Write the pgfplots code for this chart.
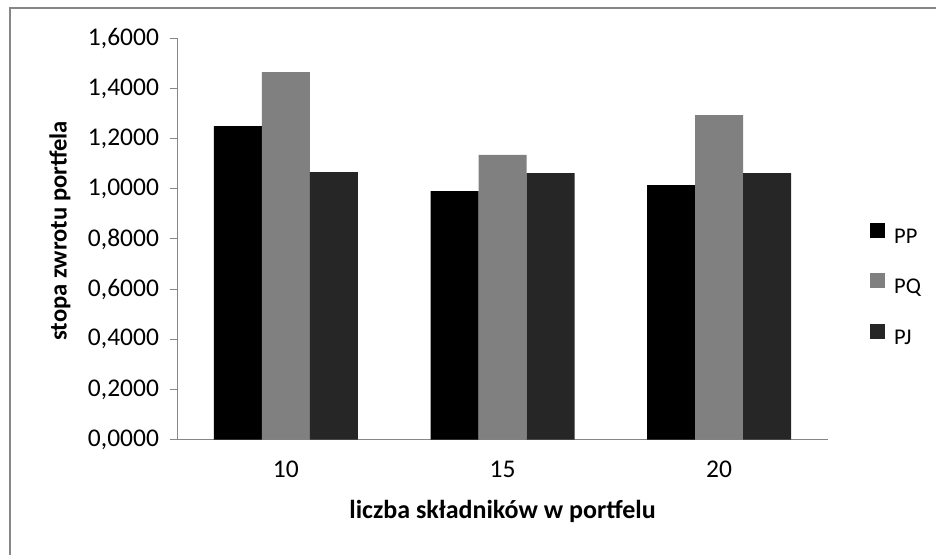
\documentclass[border=0pt]{standalone}
\usepackage{pgfplots}
\pgfplotsset{compat=1.18}
\usepackage{fontspec}
\setmainfont{Carlito}
\definecolor{axisgray}{HTML}{868686}
\definecolor{barPQ}{HTML}{808080}
\definecolor{barPJ}{HTML}{262626}

\begin{document}
\begin{tikzpicture}
\useasboundingbox (0,0) rectangle (936pt,554pt);
\begin{scope}
  \clip (0,0) rectangle (936pt,554pt);
  \draw[axisgray, line width=2pt] (10pt,-20pt) rectangle (960pt,545.5pt);
\end{scope}
\begin{axis}[
  at={(177.5pt,114.3pt)}, anchor=south west,
  width=650pt, height=401.4pt, scale only axis,
  ymin=0, ymax=1.6, xmin=-0.5, xmax=2.5,
  axis x line=bottom, axis y line=left,
  axis line style={axisgray, line width=1pt, -},
  ytick={0,0.2,0.4,0.6,0.8,1.0,1.2,1.4,1.6},
  /pgf/number format/assume math mode=true,
  tick align=outside, major tick length=8pt,
  y tick style={axisgray, line width=1pt},
  xtick={0,1,2}, xticklabels={10,15,20},
  x tick style={draw=none},
  ticklabel style={font=\fontsize{25.5}{28}\selectfont},
  yticklabel style={xshift=-7pt, /pgf/number format/.cd, fixed, fixed zerofill, precision=4, use comma},
  xticklabel style={yshift=-10pt},
  xlabel={liczba składników w portfelu},
  ylabel={stopa zwrotu portfela},
  xlabel style={font=\bfseries\fontsize{26}{29}\selectfont,
    at={(axis description cs:0.5,0)}, anchor=center, yshift=-72pt},
  ylabel style={font=\bfseries\fontsize{24.6}{28}\selectfont,
    at={(axis description cs:-0.1808,0.52)}, anchor=center},
  ybar=0pt, bar width=48pt,
  legend image code/.code={\fill[#1] (0pt,0pt) rectangle (15pt,15pt);},
  legend cell align=left,
  legend style={at={(1.0608,0.386)}, anchor=west, draw=none, fill=none,
    font=\fontsize{22.5}{25}\selectfont, row sep=27pt,
    nodes={inner sep=0pt, text height=14pt, text depth=3pt},
    /tikz/every odd column/.append style={column sep=9pt}},
]
\addplot[fill=black, draw=none] coordinates {(0,1.250) (1,0.991) (2,1.015)};
\addlegendentry{PP}
\addplot[fill=barPQ, draw=none] coordinates {(0,1.4655) (1,1.135) (2,1.294)};
\addlegendentry{PQ}
\addplot[fill=barPJ, draw=none] coordinates {(0,1.067) (1,1.063) (2,1.063)};
\addlegendentry{PJ}
\end{axis}
\end{tikzpicture}
\end{document}
